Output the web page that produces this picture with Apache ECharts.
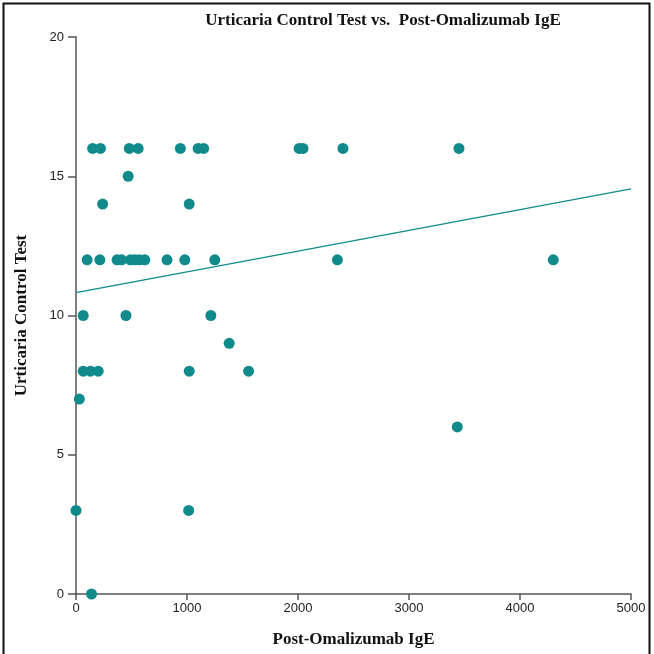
<!DOCTYPE html>
<html>
<head>
<meta charset="utf-8">
<script src="https://cdn.jsdelivr.net/npm/echarts@6/dist/echarts.min.js"></script>
<style>html,body{margin:0;padding:0;background:#fff;}#c{width:654px;height:654px;}</style>
</head>
<body>
<div id="c"></div>
<script>
const titleText = "Urticaria Control Test vs.  Post-Omalizumab IgE";
const xName = "Post-Omalizumab IgE";
const yName = "Urticaria Control Test";
const ige = [150, 220, 480, 560, 940, 1100, 1150, 2010, 2045, 2405, 3450,
             470,
             240, 1020,
             100, 215, 370, 410, 490, 530, 570, 620, 820, 980, 1250, 2355, 4300,
             65, 450, 1215,
             1380,
             65, 130, 200, 1020, 1555,
             30,
             3435,
             0, 1015,
             140];
const uct = [16, 16, 16, 16, 16, 16, 16, 16, 16, 16, 16,
             15,
             14, 14,
             12, 12, 12, 12, 12, 12, 12, 12, 12, 12, 12, 12, 12,
             10, 10, 10,
             9,
             8, 8, 8, 8, 8,
             7,
             6,
             3, 3,
             0];
const trendX = [0, 5000];
const trendY = [10.82, 14.55];
const xTicks = [0, 1000, 2000, 3000, 4000, 5000];
const yTicks = [0, 5, 10, 15, 20];

const teal = '#118a8c';
const chart = echarts.init(document.getElementById('c'), null, {renderer: 'canvas'});
chart.setOption({
  animation: false,
  backgroundColor: '#fff',
  title: {
    text: titleText,
    left: 378, top: 7, textAlign: 'center',
    textStyle: {fontFamily: 'Liberation Serif', fontWeight: 'bold', fontSize: 17, color: '#111'}
  },
  graphic: [{
    type: 'rect', silent: true,
    shape: {x: 3.5, y: 3.5, width: 646, height: 670},
    style: {fill: 'none', stroke: '#111', lineWidth: 2}
  }],
  grid: {left: 76, right: 23, top: 37, bottom: 60},
  xAxis: {
    type: 'value', min: xTicks[0], max: xTicks[xTicks.length - 1], interval: 1000,
    name: xName, nameLocation: 'middle', nameGap: 37,
    nameTextStyle: {fontFamily: 'Liberation Serif', fontWeight: 'bold', fontSize: 17, color: '#111'},
    axisLine: {lineStyle: {color: '#555', width: 1.5}},
    axisTick: {show: true, length: 6, lineStyle: {color: '#555', width: 1.5}},
    axisLabel: {fontFamily: 'Liberation Sans', fontSize: 13, color: '#222', margin: 8,
                formatter: v => String(v)},
    splitLine: {show: false}
  },
  yAxis: {
    type: 'value', min: yTicks[0], max: yTicks[yTicks.length - 1], interval: 5,
    name: yName, nameLocation: 'middle', nameGap: 46,
    nameTextStyle: {fontFamily: 'Liberation Serif', fontWeight: 'bold', fontSize: 17, color: '#111'},
    axisLine: {show: true, lineStyle: {color: '#555', width: 1.5}},
    axisTick: {show: true, length: 8, lineStyle: {color: '#555', width: 1.5}},
    axisLabel: {fontFamily: 'Liberation Sans', fontSize: 13, color: '#222', margin: 12,
                formatter: v => String(v)},
    splitLine: {show: false}
  },
  series: [
    {
      type: 'scatter',
      data: ige.map((v, i) => [v, uct[i]]),
      symbolSize: 11,
      itemStyle: {color: teal, opacity: 1},
      z: 3
    },
    {
      type: 'line',
      data: trendX.map((v, i) => [v, trendY[i]]),
      symbol: 'none',
      lineStyle: {color: teal, width: 1.3},
      z: 2
    }
  ]
});
</script>
</body>
</html>
